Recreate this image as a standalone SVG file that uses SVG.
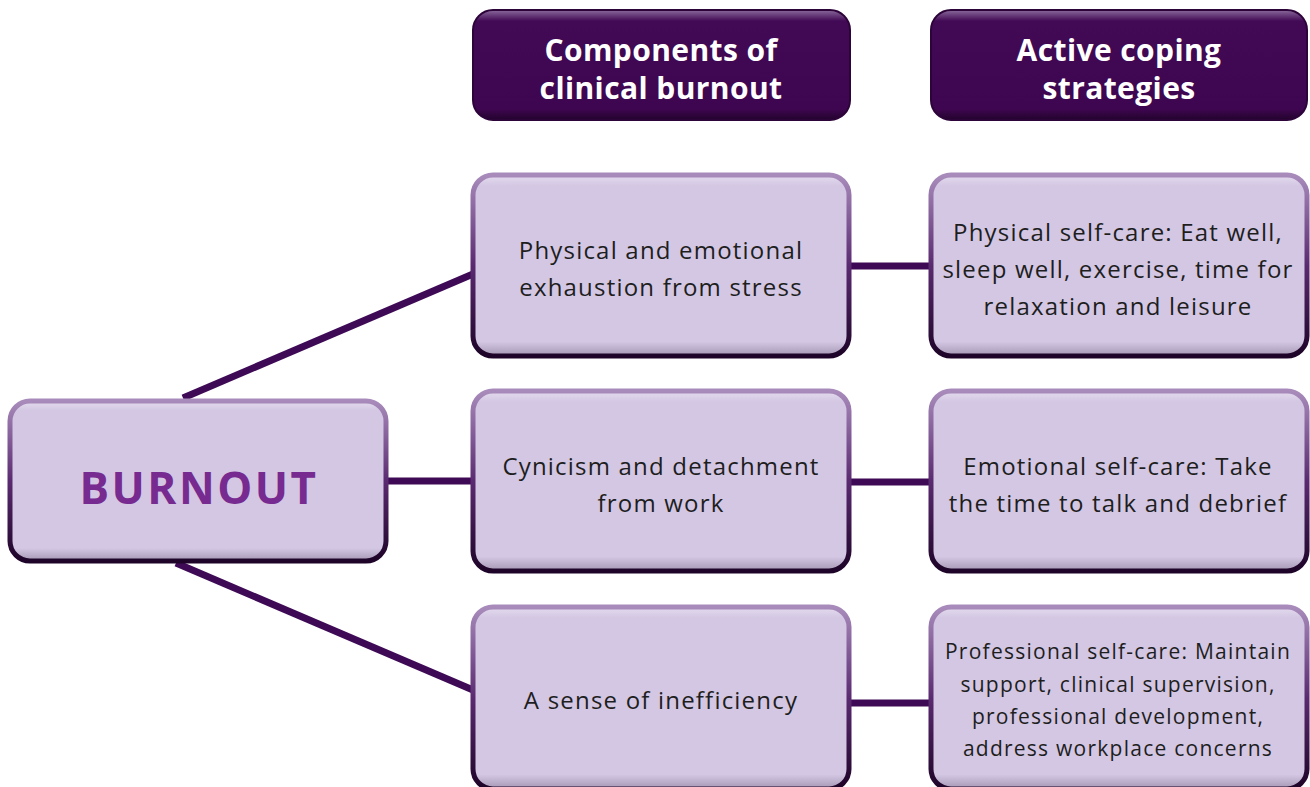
<svg xmlns="http://www.w3.org/2000/svg" width="1310" height="787" viewBox="0 0 1310 787">
<defs>
<linearGradient id="edge" x1="0" y1="0" x2="0" y2="1">
<stop offset="0" stop-color="#a88bbb"/>
<stop offset="0.5" stop-color="#5a2a70"/>
<stop offset="1" stop-color="#1e0428"/>
</linearGradient>
<linearGradient id="fillg" x1="0" y1="0" x2="0" y2="1">
<stop offset="0" stop-color="#e4dcee"/>
<stop offset="0.06" stop-color="#d3c7e3"/>
<stop offset="0.92" stop-color="#d3c7e3"/>
<stop offset="1" stop-color="#a597b3"/>
</linearGradient>
<linearGradient id="hdrg" x1="0" y1="0" x2="0" y2="1">
<stop offset="0" stop-color="#8a6a9c"/>
<stop offset="0.1" stop-color="#420a55"/>
<stop offset="0.9" stop-color="#3e0650"/>
<stop offset="1" stop-color="#22032c"/>
</linearGradient>
<style>
.box{fill:url(#fillg);stroke:url(#edge);stroke-width:5}
.hdr{fill:url(#hdrg);stroke:#2d0439;stroke-width:2}
.conn{stroke:#3e0a55;stroke-width:7;fill:none}
.t{font-family:"Open Sans","Liberation Sans",sans-serif;font-size:24px;letter-spacing:1.2px;fill:#1e1e1e;text-anchor:middle}
.ts{font-family:"Open Sans","Liberation Sans",sans-serif;font-size:21px;letter-spacing:1.25px;fill:#1e1e1e;text-anchor:middle}
.h{font-family:"Open Sans","Liberation Sans",sans-serif;font-size:30px;letter-spacing:0.4px;font-weight:bold;fill:#ffffff;text-anchor:middle}
.b{font-family:"Open Sans","Liberation Sans",sans-serif;font-size:44px;letter-spacing:2.5px;font-weight:bold;fill:#772a90;text-anchor:middle}
</style>
</defs>
<g id="connectors">
<line class="conn" x1="183" y1="398" x2="473" y2="274"/>
<line class="conn" x1="385" y1="481" x2="473" y2="481"/>
<line class="conn" x1="176" y1="563" x2="473" y2="690"/>
<line class="conn" x1="849" y1="266" x2="931" y2="266"/>
<line class="conn" x1="849" y1="482" x2="931" y2="482"/>
<line class="conn" x1="849" y1="703" x2="931" y2="703"/>
</g>
<g id="header1">
<rect class="hdr" x="473" y="10" width="377" height="110" rx="20"/>
<text class="h" x="661" y="61">Components of</text>
<text class="h" x="661" y="99">clinical burnout</text>
</g>
<g id="header2">
<rect class="hdr" x="931" y="10" width="376" height="110" rx="20"/>
<text class="h" x="1119" y="61">Active coping</text>
<text class="h" x="1119" y="99">strategies</text>
</g>
<g id="burnout">
<rect class="box" x="10" y="401" width="376" height="160" rx="20"/>
<text class="b" x="199" y="504">BURNOUT</text>
</g>
<g id="comp1">
<rect class="box" x="473" y="175" width="376" height="181" rx="20"/>
<text class="t" x="661" y="259">Physical and emotional</text>
<text class="t" x="661" y="296">exhaustion from stress</text>
</g>
<g id="comp2">
<rect class="box" x="473" y="391" width="376" height="180" rx="20"/>
<text class="t" x="661" y="475">Cynicism and detachment</text>
<text class="t" x="661" y="512">from work</text>
</g>
<g id="comp3">
<rect class="box" x="473" y="607" width="376" height="182" rx="20"/>
<text class="t" x="661" y="709">A sense of inefficiency</text>
</g>
<g id="cope1">
<rect class="box" x="931" y="175" width="376" height="181" rx="20"/>
<text class="t" x="1118" y="241">Physical self-care: Eat well,</text>
<text class="t" x="1118" y="278">sleep well, exercise, time for</text>
<text class="t" x="1118" y="315">relaxation and leisure</text>
</g>
<g id="cope2">
<rect class="box" x="931" y="391" width="376" height="180" rx="20"/>
<text class="t" x="1118" y="475">Emotional self-care: Take</text>
<text class="t" x="1118" y="512">the time to talk and debrief</text>
</g>
<g id="cope3">
<rect class="box" x="931" y="607" width="376" height="182" rx="20"/>
<text class="ts" x="1118" y="659">Professional self-care: Maintain</text>
<text class="ts" x="1118" y="692">support, clinical supervision,</text>
<text class="ts" x="1118" y="724">professional development,</text>
<text class="ts" x="1118" y="756">address workplace concerns</text>
</g>
</svg>
